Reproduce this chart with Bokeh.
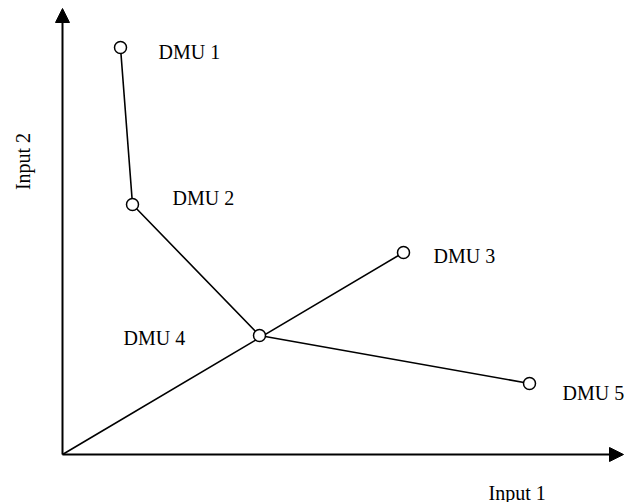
from bokeh.plotting import figure
from bokeh.models import Arrow, NormalHead, ColumnDataSource, Range1d, Label
from bokeh.core.properties import value
from bokeh.embed import file_html
from bokeh.resources import INLINE
import math

# DMU data (arbitrary units: input 1, input 2)
dmu_names = ["DMU 1", "DMU 2", "DMU 3", "DMU 4", "DMU 5"]
input1 = [5.8, 7.0, 34.1, 19.7, 46.7]
input2 = [40.7, 25.0, 20.2, 11.9, 7.1]
frontier = ["DMU 1", "DMU 2", "DMU 4", "DMU 5"]
ray_target = "DMU 3"
x_label = "Input 1"
y_label = "Input 2"

FONT = "Liberation Serif"

p = figure(width=624, height=502, output_backend="svg", toolbar_location=None,
           x_range=Range1d(-6.2, 56.2), y_range=Range1d(-4.8, 45.4),
           min_border=0, outline_line_color=None)
p.axis.visible = False
p.grid.visible = False
p.background_fill_color = "white"

# axes with arrowheads
p.add_layout(Arrow(end=NormalHead(size=14, fill_color="black", line_color="black"),
                   x_start=0, y_start=0, x_end=56.1, y_end=0,
                   line_width=2, line_color="black"))
p.add_layout(Arrow(end=NormalHead(size=14, fill_color="black", line_color="black"),
                   x_start=0, y_start=0, x_end=0, y_end=44.6,
                   line_width=2, line_color="black"))

idx = {n: i for i, n in enumerate(dmu_names)}
# efficient frontier
p.line([input1[idx[n]] for n in frontier], [input2[idx[n]] for n in frontier],
       line_color="black", line_width=1.6)
# ray from origin
t = idx[ray_target]
p.line([0, input1[t]], [0, input2[t]], line_color="black", line_width=1.6)

# points
src = ColumnDataSource(dict(x=input1, y=input2, name=dmu_names,
                            dx=[38, 40, 30, -136, 33], dy=[4.5, -7, 3, 2, 9]))
p.scatter("x", "y", source=src, size=12, fill_color="white", line_color="black",
          line_width=1.5)
p.text("x", "y", text="name", source=src, x_offset="dx", y_offset="dy",
       text_font=value(FONT), text_font_size="20px", text_color="black",
       text_align="left", text_baseline="alphabetic")

p.add_layout(Label(x=42.6, y=-3.8, text=x_label, text_font=FONT,
                   text_font_size="20px", text_color="black",
                   text_align="left", text_baseline="alphabetic"))
p.add_layout(Label(x=-4.0, y=29.3, text=y_label, text_font=FONT,
                   text_font_size="20px", text_color="black", angle=math.pi / 2,
                   text_align="center", text_baseline="middle"))

open("out.html", "w").write(file_html(p, INLINE))
